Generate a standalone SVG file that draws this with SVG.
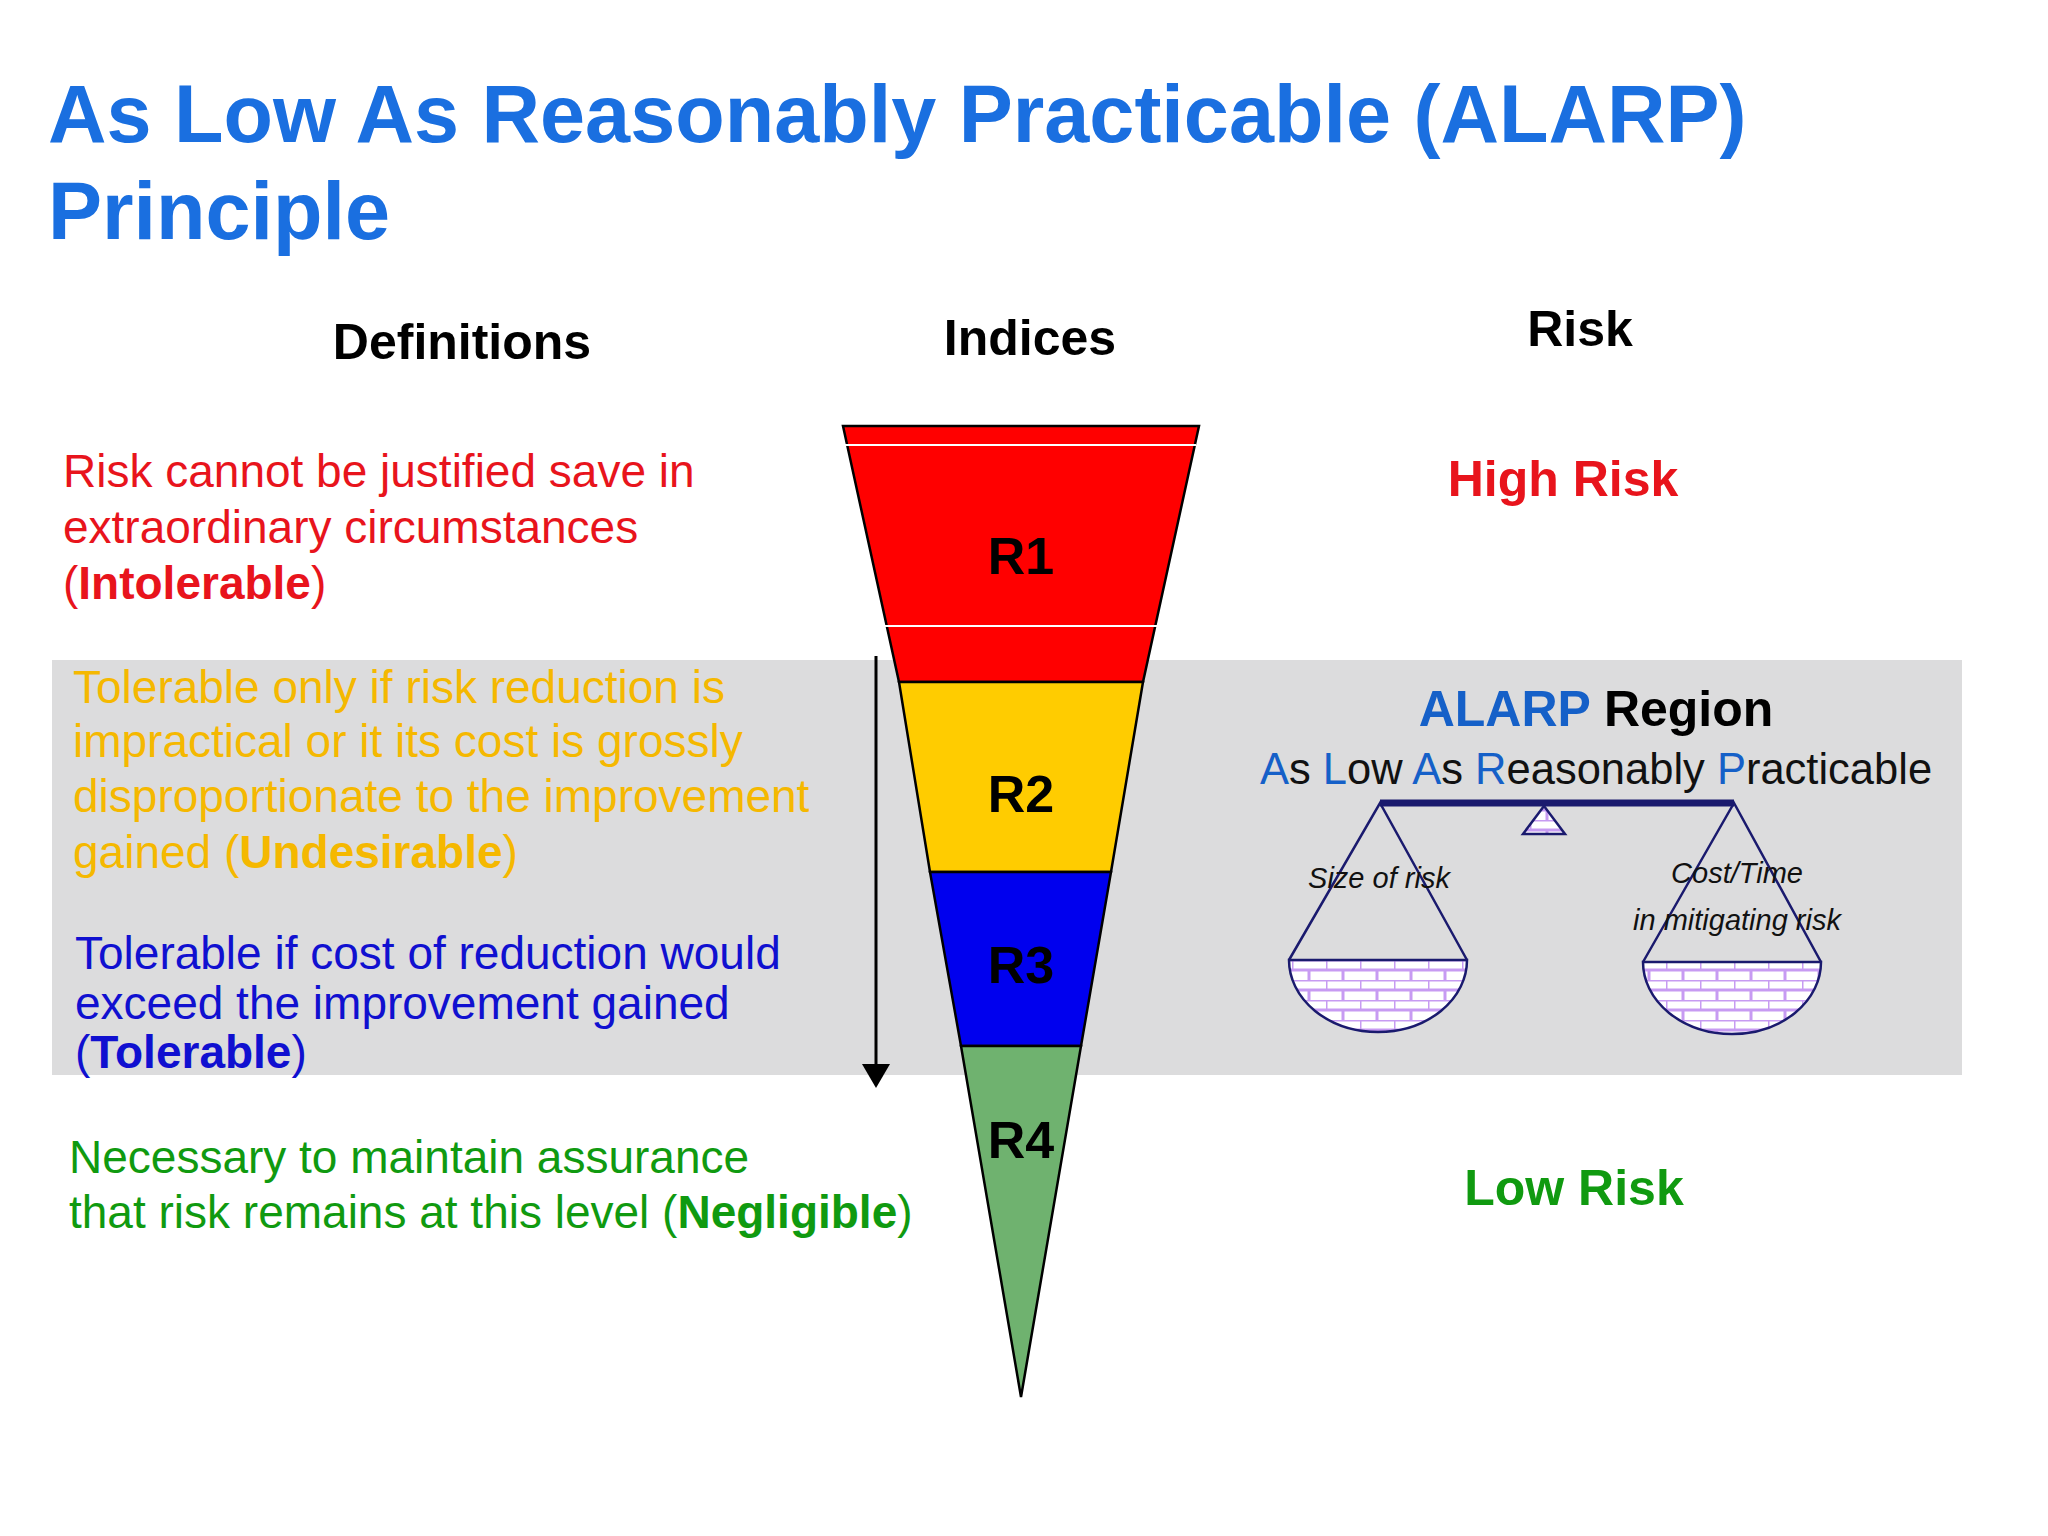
<svg xmlns="http://www.w3.org/2000/svg" width="2048" height="1536" viewBox="0 0 2048 1536">
<style>
text{font-family:"Liberation Sans",Arial,sans-serif}
.h{font-size:50px;font-weight:bold;fill:#000;text-anchor:middle}
.r{font-size:52px;font-weight:bold;fill:#000;text-anchor:middle}
.d{font-size:46px}
.pan{fill:url(#brick);stroke:#1a1a6e;stroke-width:2.5}
.str{stroke:#1a1a6e;stroke-width:2.5;fill:none}
.it{font-size:29px;font-style:italic;fill:#111;text-anchor:middle}
.bl{fill:#1560c8}
</style>
<defs>
<pattern id="brick" width="34" height="20" patternUnits="userSpaceOnUse">
<rect width="34" height="20" fill="#fff"/>
<path d="M0 0H34M0 10H34M0 0V10M17 10V20" stroke="#c79bf2" stroke-width="3" fill="none"/>
</pattern>
</defs>
<rect width="2048" height="1536" fill="#fff"/>
<rect x="52" y="660" width="1910" height="415" fill="#dcdcdd"/>
<g id="title" font-weight="bold" font-size="81" fill="#1a6fe0">
<text x="48" y="142">As Low As Reasonably Practicable (ALARP)</text>
<text x="48" y="239">Principle</text>
</g>
<g id="headers">
<text class="h" x="462" y="359" font-size="52">Definitions</text>
<text class="h" x="1030" y="355">Indices</text>
<text class="h" x="1580" y="346">Risk</text>
</g>
<g id="funnel" stroke="#000" stroke-width="2.5">
<g id="R1"><polygon points="843,426 1199,426 1143,682 899,682" fill="#ff0000"/>
<line x1="845" y1="445" x2="1196" y2="445" stroke="#fff" stroke-width="2"/>
<line x1="885" y1="626" x2="1157" y2="626" stroke="#fff" stroke-width="2"/>
<text class="r" x="1021" y="574" stroke="none" font-size="66">R1</text></g>
<g id="R2"><polygon points="899,682 1143,682 1111,872 930,872" fill="#ffcc00"/>
<text class="r" x="1021" y="812" stroke="none" font-size="52">R2</text></g>
<g id="R3"><polygon points="930,872 1111,872 1081,1046 961,1046" fill="#0000ee"/>
<text class="r" x="1021" y="983" stroke="none" font-size="50">R3</text></g>
<g id="R4"><polygon points="961,1046 1081,1046 1021,1397" fill="#6fb26f"/>
<text class="r" x="1021" y="1158" stroke="none" font-size="42">R4</text></g>
</g>
<g id="connectors">
<line x1="876" y1="656" x2="876" y2="1068" stroke="#000" stroke-width="3"/>
<polygon points="862,1064 890,1064 876,1088" fill="#000"/>
</g>
<g id="defs-text" class="d">
<text fill="#e8141c" x="63" y="487">Risk cannot be justified save in</text>
<text fill="#e8141c" x="63" y="543">extraordinary circumstances</text>
<text fill="#e8141c" x="63" y="599">(<tspan font-weight="bold">Intolerable</tspan>)</text>
<text fill="#f5b800" x="73" y="703">Tolerable only if risk reduction is</text>
<text fill="#f5b800" x="73" y="757">impractical or it its cost is grossly</text>
<text fill="#f5b800" x="73" y="812">disproportionate to the improvement</text>
<text fill="#f5b800" x="73" y="868">gained (<tspan font-weight="bold">Undesirable</tspan>)</text>
<text fill="#1010d0" x="75" y="969">Tolerable if cost of reduction would</text>
<text fill="#1010d0" x="75" y="1019">exceed the improvement gained</text>
<text fill="#1010d0" x="75" y="1068">(<tspan font-weight="bold">Tolerable</tspan>)</text>
<text fill="#109a10" x="69" y="1173">Necessary to maintain assurance</text>
<text fill="#109a10" x="69" y="1228">that risk remains at this level (<tspan font-weight="bold">Negligible</tspan>)</text>
</g>
<g id="risk-labels" font-weight="bold" font-size="50" text-anchor="middle">
<text x="1563" y="496" fill="#e8141c">High Risk</text>
<text x="1574" y="1205" fill="#109a10">Low Risk</text>
</g>
<g id="alarp">
<text x="1596" y="726" font-size="50" font-weight="bold" text-anchor="middle"><tspan class="bl">ALARP</tspan> Region</text>
<text x="1596" y="784" font-size="43.5" text-anchor="middle" fill="#111"><tspan class="bl">A</tspan>s <tspan class="bl">L</tspan>ow <tspan class="bl">A</tspan>s <tspan class="bl">R</tspan>easonably <tspan class="bl">P</tspan>racticable</text>
</g>
<g id="scale">
<polygon points="1544,806 1523,834 1565,834" class="pan"/>
<line x1="1380" y1="803" x2="1734" y2="803" stroke="#1a1a6e" stroke-width="7"/>
<path class="str" d="M1289,960 L1380,803 L1467,960"/>
<path class="str" d="M1643,962 L1734,803 L1821,962"/>
<path class="pan" d="M1289,960 H1467 A89,72 0 0 1 1289,960 Z"/>
<path class="pan" d="M1643,962 H1821 A89,72 0 0 1 1643,962 Z"/>
<text class="it" x="1379" y="888">Size of risk</text>
<text class="it" x="1737" y="883">Cost/Time</text>
<text class="it" x="1737" y="930">in mitigating risk</text>
</g>
</svg>
